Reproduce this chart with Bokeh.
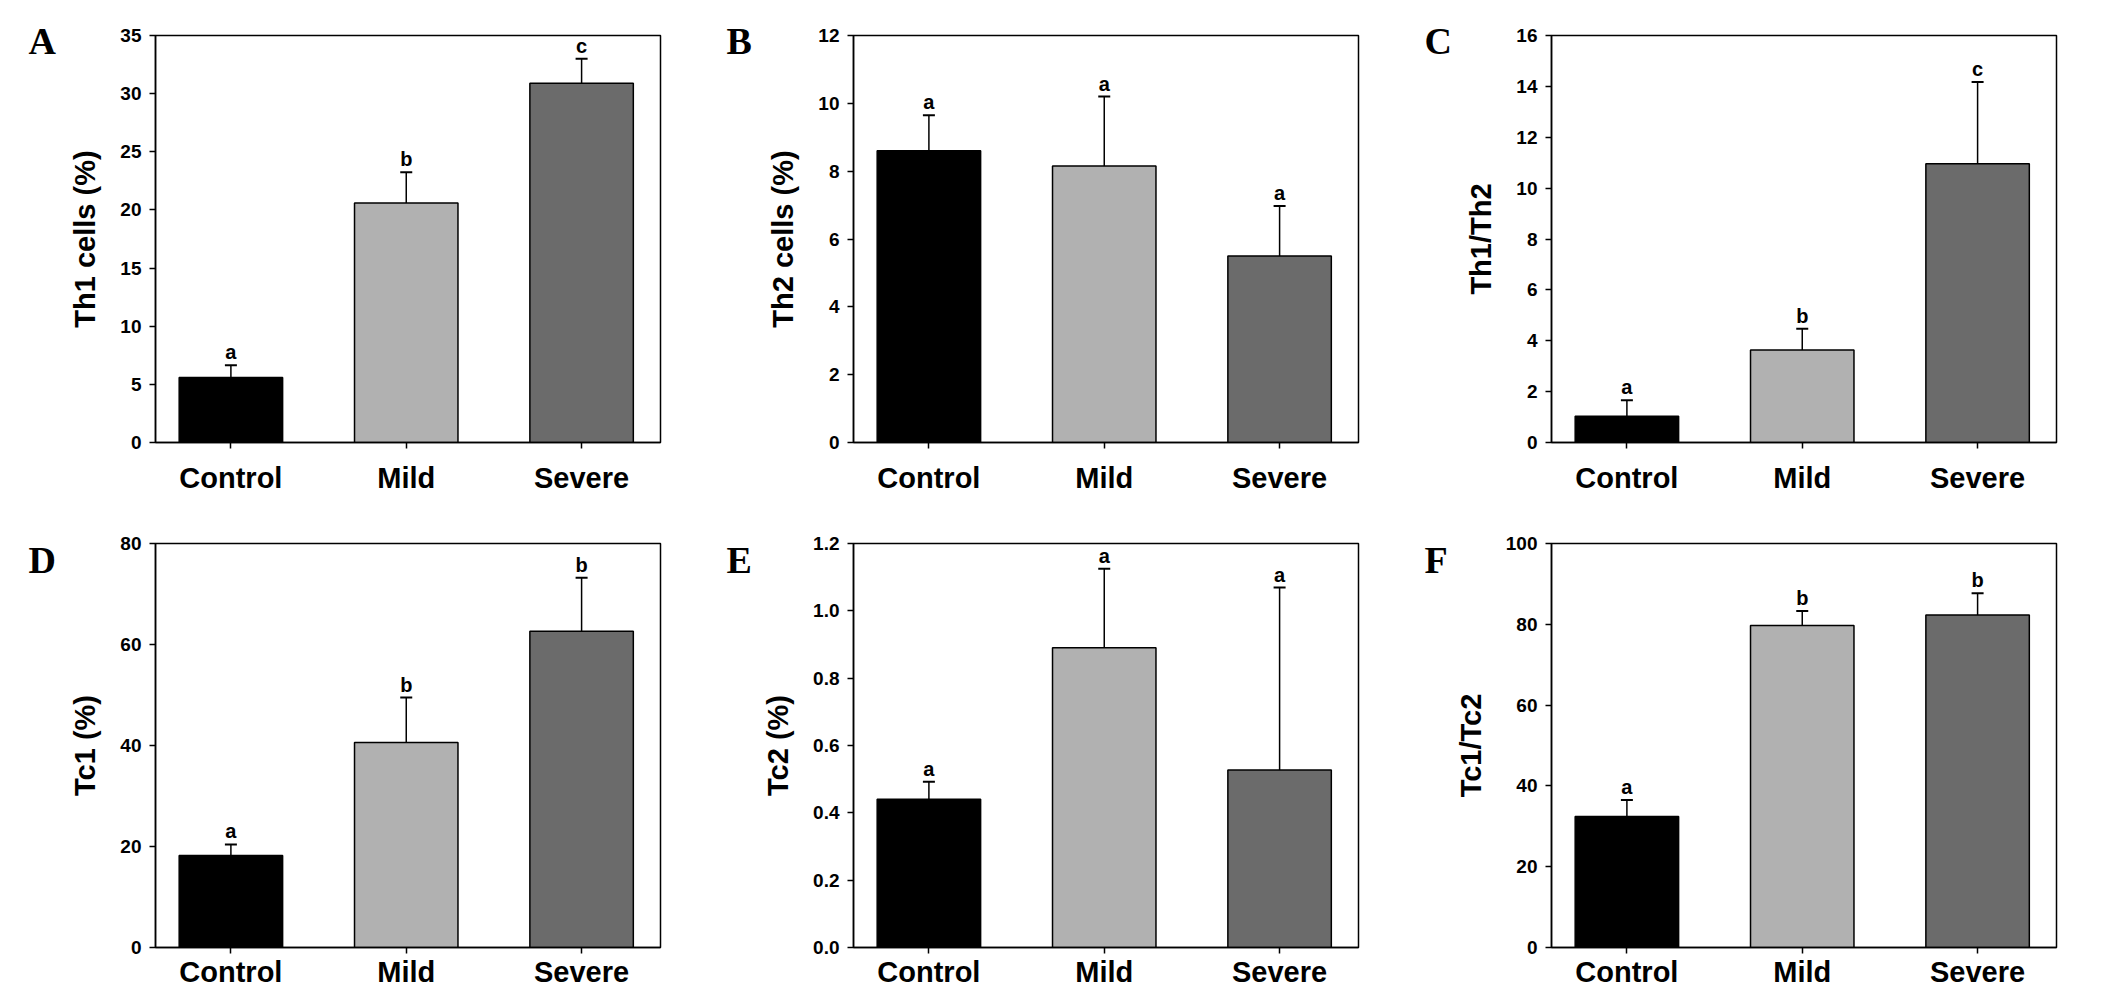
#Six bar panels (Th1 / Th2 / Tc1 / Tc2) with upper error bars and significance letters

from bokeh.plotting import figure
from bokeh.layouts import column, row
from bokeh.models import (Range1d, FixedTicker, PrintfTickFormatter, BasicTickFormatter,
                          Title, Whisker, TeeHead, ColumnDataSource)
from bokeh.core.properties import value
from bokeh.embed import file_html
from bokeh.resources import INLINE

#### DATA ####
groups = ["Control", "Mild", "Severe"]
group_x = [1, 2, 3]
bar_colors = ["#000000", "#b1b1b1", "#6b6b6b"]

th1_mean = [5.6, 20.6, 30.9]
th1_err = [1.05, 2.65, 2.1]
th1_sig = ["a", "b", "c"]
th1_ticks = [0, 5, 10, 15, 20, 25, 30, 35]

th2_mean = [8.6, 8.15, 5.5]
th2_err = [1.05, 2.05, 1.47]
th2_sig = ["a", "a", "a"]
th2_ticks = [0, 2, 4, 6, 8, 10, 12]

th_ratio_mean = [1.03, 3.64, 10.96]
th_ratio_err = [0.63, 0.83, 3.21]
th_ratio_sig = ["a", "b", "c"]
th_ratio_ticks = [0, 2, 4, 6, 8, 10, 12, 14, 16]

tc1_mean = [18.2, 40.6, 62.6]
tc1_err = [2.2, 8.9, 10.6]
tc1_sig = ["a", "b", "b"]
tc1_ticks = [0, 20, 40, 60, 80]

tc2_mean = [0.44, 0.89, 0.527]
tc2_err = [0.052, 0.235, 0.542]
tc2_sig = ["a", "a", "a"]
tc2_ticks = [0.0, 0.2, 0.4, 0.6, 0.8, 1.0, 1.2]

tc_ratio_mean = [32.4, 79.7, 82.3]
tc_ratio_err = [4.1, 3.6, 5.4]
tc_ratio_sig = ["a", "b", "b"]
tc_ratio_ticks = [0, 20, 40, 60, 80, 100]

SANS = "Liberation Sans"
SERIF = "Liberation Serif"


def make_panel(letter, ylabel, means, errs, sig, yticks, top_row, decimals=False):
    #top row has a bit more room under the category names
    if top_row:
        height, b_top, b_bottom, x_standoff, letter_standoff = 496, 35, 52, 13, -52
    else:
        height, b_top, b_bottom, x_standoff, letter_standoff = 494, 47, 41, 2, -74

    p = figure(width=698, height=height,
               x_range=Range1d(0.57, 3.45), y_range=Range1d(0, yticks[-1]),
               output_backend="svg", toolbar_location=None,
               min_border_left=155, min_border_right=38,
               min_border_top=b_top, min_border_bottom=b_bottom)
    p.grid.visible = False
    p.outline_line_color = "black"
    p.outline_line_width = 1.5

    #bars
    p.vbar(x=group_x, top=means, width=0.59, bottom=0,
           fill_color=bar_colors, line_color="black", line_width=1.5)

    #upper error bars only
    upper = [m + e for m, e in zip(means, errs)]
    src = ColumnDataSource(data=dict(x=group_x, lower=means, upper=upper))
    p.add_layout(Whisker(source=src, base="x", lower="lower", upper="upper",
                         line_color="black", line_width=1.5, lower_head=None,
                         upper_head=TeeHead(size=12, line_width=2, line_color="black"),
                         level="annotation"))

    #significance letters
    p.text(x=group_x, y=upper, text=sig, text_font=value(SANS), text_font_style="bold",
           text_font_size="20px", text_align="center", text_baseline="bottom",
           text_color="black", y_offset=-2)

    #axes
    p.xaxis.ticker = FixedTicker(ticks=group_x)
    p.xaxis.major_label_overrides = dict(zip(group_x, groups))
    p.xaxis.major_label_text_font = SANS
    p.xaxis.major_label_text_font_style = "bold"
    p.xaxis.major_label_text_font_size = "29px"
    p.xaxis.major_label_standoff = x_standoff

    p.yaxis.ticker = FixedTicker(ticks=yticks)
    if decimals:
        p.yaxis.formatter = PrintfTickFormatter(format="%.1f")
    else:
        p.yaxis.formatter = BasicTickFormatter()
    p.yaxis.major_label_text_font = SANS
    p.yaxis.major_label_text_font_style = "bold"
    p.yaxis.major_label_text_font_size = "19px"
    p.yaxis.major_label_standoff = 8
    p.yaxis.axis_label = ylabel
    p.yaxis.axis_label_text_font = SANS
    p.yaxis.axis_label_text_font_style = "bold"
    p.yaxis.axis_label_text_font_size = "29px"
    p.yaxis.axis_label_standoff = 16

    p.axis.axis_line_color = "black"
    p.axis.axis_line_width = 1.5
    p.axis.major_tick_line_color = "black"
    p.axis.major_tick_line_width = 1.5
    p.axis.major_tick_in = 0
    p.axis.major_tick_out = 6
    p.axis.minor_tick_line_color = None
    p.axis.major_label_text_color = "black"
    p.axis.axis_label_text_color = "black"

    #panel letter (a title pushed out to the left of the frame)
    p.add_layout(Title(text=letter, align="left", offset=-127, standoff=letter_standoff,
                       text_font=SERIF, text_font_style="bold", text_font_size="38px",
                       text_color="black", vertical_align="bottom"), "above")
    return p


pA = make_panel("A", "Th1 cells (%)", th1_mean, th1_err, th1_sig, th1_ticks, True)
pB = make_panel("B", "Th2 cells (%)", th2_mean, th2_err, th2_sig, th2_ticks, True)
pC = make_panel("C", "Th1/Th2", th_ratio_mean, th_ratio_err, th_ratio_sig, th_ratio_ticks, True)
pD = make_panel("D", "Tc1 (%)", tc1_mean, tc1_err, tc1_sig, tc1_ticks, False)
pE = make_panel("E", "Tc2 (%)", tc2_mean, tc2_err, tc2_sig, tc2_ticks, False, decimals=True)
pF = make_panel("F", "Tc1/Tc2", tc_ratio_mean, tc_ratio_err, tc_ratio_sig, tc_ratio_ticks, False)

page = column(row(pA, pB, pC), row(pD, pE, pF))
open("out.html", "w").write(file_html(page, INLINE))
